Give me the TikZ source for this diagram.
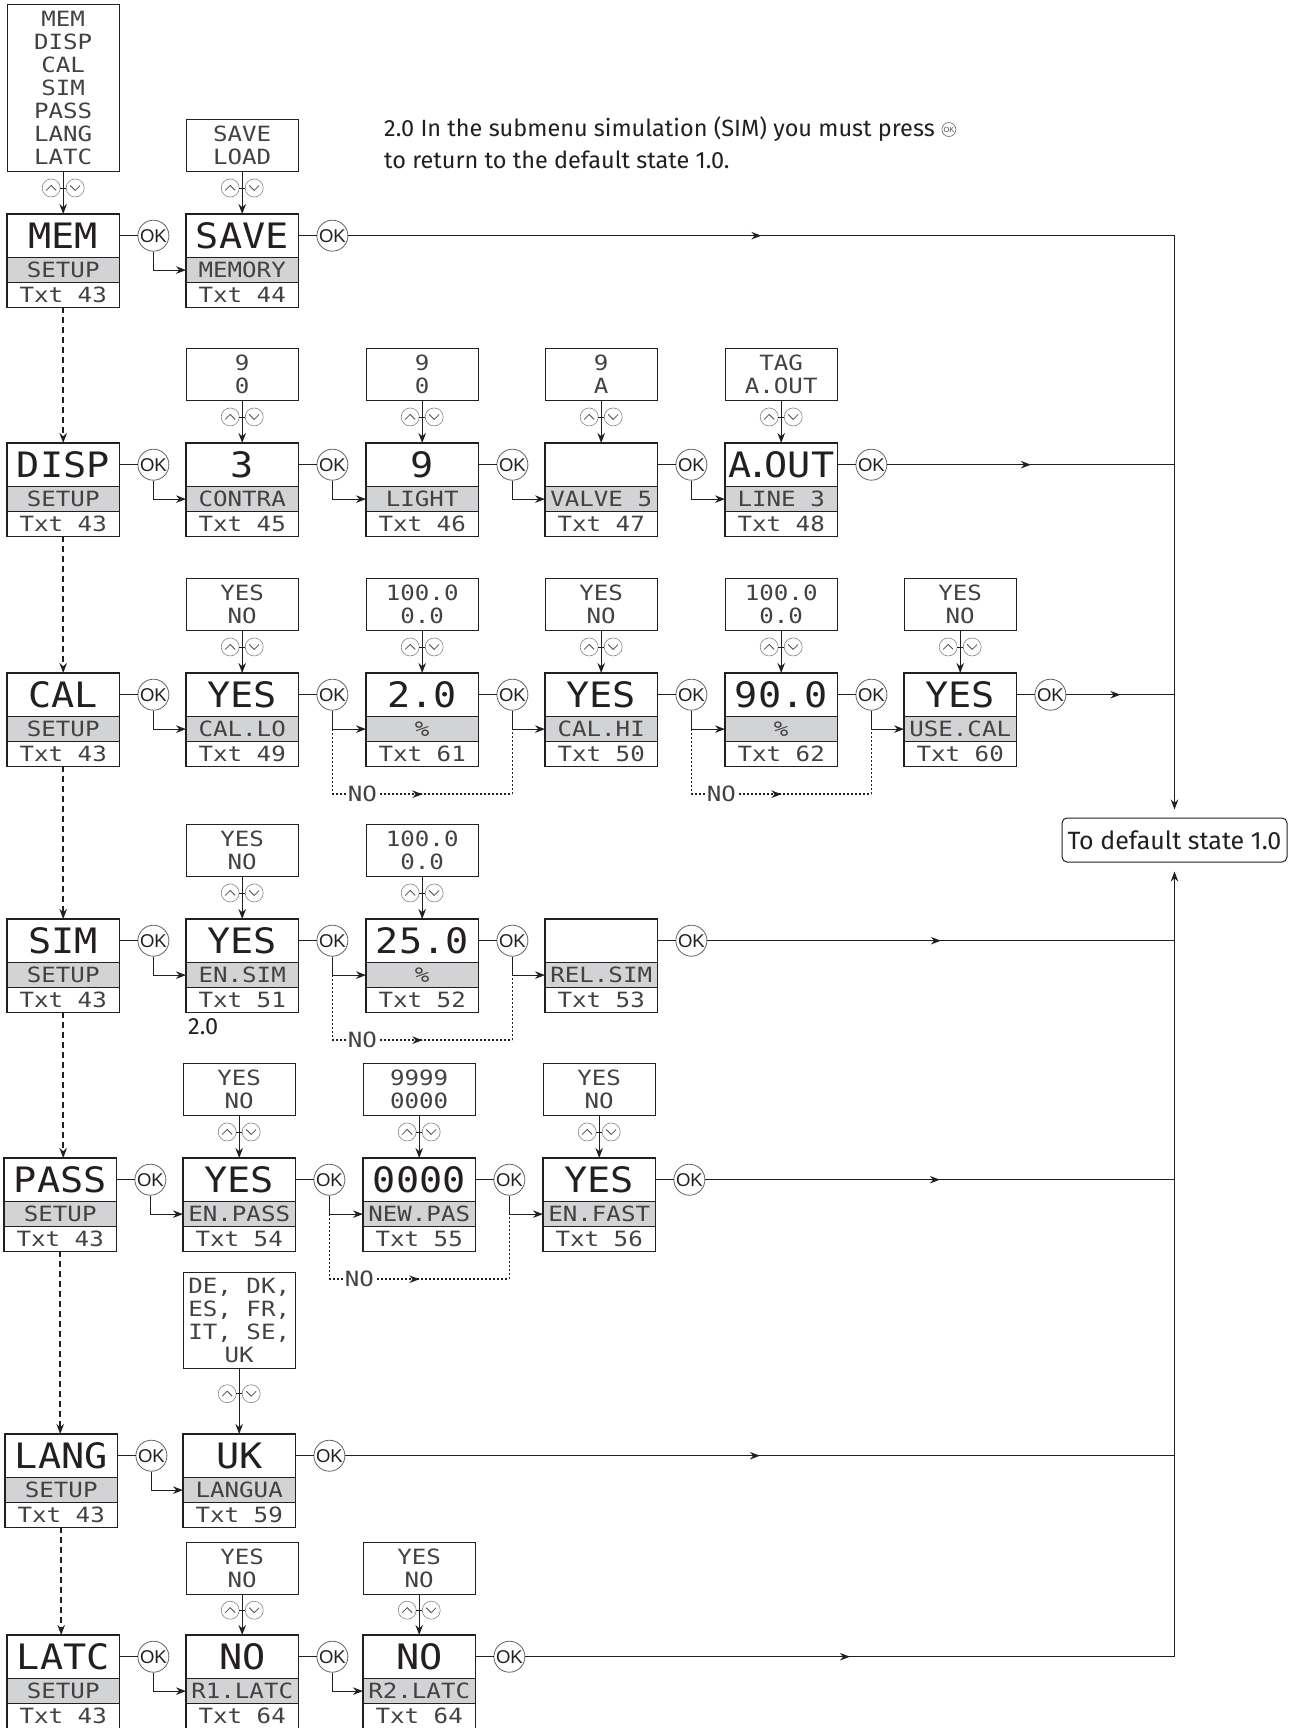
\documentclass[tikz,border=0pt]{standalone}
\usepackage{fontspec}
\setmainfont{Fira Sans}
\newfontfamily\lcdbig[FakeStretch=1.1]{DejaVu Sans Mono}
\newfontfamily\lcdsm[FakeStretch=1.15]{DejaVu Sans Mono}
\newfontfamily\okfont{Liberation Sans}
\usetikzlibrary{arrows.meta,decorations.markings,calc}
\definecolor{ink}{HTML}{231F20}
\definecolor{bandgray}{HTML}{D2D3D5}

\newcommand\lcd[6]{%
  \node[lcdt, anchor=north west] (#1) at (#2,#3) {#4};
  \node[lcdb, anchor=north] (#1-b) at (#1.south) {#5};
  \node[lcdx, anchor=north] (#1-x) at (#1-b.south) {#6};
  \draw[lcdframe] (#1.north west) rectangle (#1-x.south east);
  \draw[lcdframe] (#1-b.north west) -- (#1-b.north east) (#1-b.south west) -- (#1-b.south east);
}
\newcommand\sel[5]{%
  \node[listbox, minimum height=#4pt, anchor=south] (#1) at ($(#2.north)+(0,-#3)$) {#5};
  \draw[conn,->] (#1.south) -- coordinate[pos=0.38] (#1-k) (#2.north);
  \node[udc] (#1-ku) at ($(#1-k)+(-12,0)$) {};
  \node[udc] (#1-kd) at ($(#1-k)+(12,0)$) {};
  \draw[chev] ($(#1-k)+(-17,2.5)$) -- ++(5,-5) -- ++(5,5);
  \draw[chev] ($(#1-k)+(7,-2.5)$) -- ++(5,5) -- ++(5,-5);
  \draw[conn, line width=0.8pt] ($(#1-k)+(-3,0)$) -- ($(#1-k)+(3,0)$);
}
\newcommand\okto[3]{%
  \node[okc] (#1) at ($(#2.east)+(34,0)$) {OK};
  \draw[conn] (#2.east) -- (#1);
  \draw[conn,->] (#1.south) |- (#3-b.west);
}
\newcommand\okend[2]{%
  \node[okc] (#1) at ($(#2.east)+(34,0)$) {OK};
  \draw[conn] (#2.east) -- (#1);
  \draw[conn,midarr] (#1) -- (#1 -| def.north);
}
\newcommand\noloop[5]{%
  \coordinate (#1-a) at (#2 |- #3-b.west);
  \coordinate (#1-d) at ($(#2 |- #3-x.south)+(0,28)$);
  \coordinate (#1-e) at (#1-d -| #4);
  \coordinate (#1-c) at (#4 |- #5-b.west);
  \draw[dotl] (#1-a) -- (#1-d);
  \draw[dotl, midarr] (#1-d) -- (#1-e);
  \draw[dotl] (#1-e) -- (#1-c);
  \node[nolbl] (#1-t) at ($(#1-d)+(30,0)$) {NO};
}

\begin{document}
\begin{tikzpicture}[x=1pt,y=-1pt,
  >={Stealth[length=10pt,width=7.5pt]},
  conn/.style={draw=ink, line width=1.2pt},
  midarr/.style={postaction={decorate}, decoration={markings, mark=at position 0.5 with {\arrow{>}}}},
  lcdt/.style={minimum width=112pt, minimum height=43pt, inner sep=0pt, text height=25.5pt, text depth=0pt, font=\lcdbig\fontsize{35}{35}\selectfont, text=ink},
  lcdb/.style={fill=bandgray, minimum width=112pt, minimum height=25pt, inner sep=0pt, text height=15pt, text depth=0pt, font=\lcdsm\fontsize{21}{21}\selectfont, text=ink!85},
  lcdx/.style={minimum width=112pt, minimum height=24pt, inner sep=0pt, text height=15pt, text depth=0pt, font=\lcdsm\fontsize{21}{21}\selectfont, text=ink!85},
  lcdframe/.style={draw=ink, line width=1.3pt},
  listbox/.style={draw=ink, line width=1pt, minimum width=112pt, inner sep=0pt, align=center, font=\lcdsm\fontsize{21}{23}\selectfont, text=ink!85},
  okc/.style={circle, draw=ink!70, line width=0.8pt, fill=white, minimum size=31pt, inner sep=0pt, font=\okfont\fontsize{18.5}{18.5}\selectfont, text=ink},
  udc/.style={circle, draw=ink!55, line width=0.6pt, minimum size=18pt, inner sep=0pt},
  chev/.style={draw=ink!80, line width=0.8pt},
  dashl/.style={draw=ink, line width=2.2pt, dash pattern=on 6pt off 4pt},
  dotl/.style={draw=ink, line width=1.8pt, dash pattern=on 1.8pt off 2.2pt},
  nolbl/.style={fill=white, inner sep=1pt, font=\lcdsm\fontsize{21}{21}\selectfont, text=ink!85, text height=15pt, text depth=0pt},
  note/.style={font=\fontsize{23.5}{23.5}\selectfont, text=ink, inner sep=0pt},
]
\useasboundingbox (0,0) rectangle (1289,1728);

% default state box
\node[draw=ink, line width=1pt, rounded corners=5pt, minimum width=225pt, minimum height=44pt, font=\fontsize{25}{25}\selectfont, text=ink] (def) at (1174.5,840) {To default state 1.0};

% note
\node[note, anchor=base west] (note1) at (384,137) {2.0 In the submenu simulation (SIM) you must press};
\node[circle, draw=ink!70, line width=0.6pt, minimum size=14pt, inner sep=0pt, font=\okfont\fontsize{7.5}{7.5}\selectfont, text=ink!80] (okicon) at ($(note1.base east)+(14,-7.5)$) {OK};
\node[note, anchor=base west] (note2) at (384,169) {to return to the default state 1.0.};

% ---------- MEM row
\lcd{M0}{7}{214}{MEM}{SETUP}{Txt 43}
\lcd{M1}{186}{214}{SAVE}{MEMORY}{Txt 44}
\sel{M0l}{M0}{42}{167}{MEM\\DISP\\CAL\\SIM\\PASS\\LANG\\LATC}
\sel{M1l}{M1}{42}{52}{SAVE\\LOAD}
\okto{okM01}{M0}{M1}
\okend{okM12}{M1}

% ---------- DISP row
\lcd{D0}{7}{443}{DISP}{SETUP}{Txt 43}
\lcd{D1}{186}{443}{3}{CONTRA}{Txt 45}
\lcd{D2}{366}{443}{9}{LIGHT}{Txt 46}
\lcd{D3}{545}{443}{}{VALVE 5}{Txt 47}
\lcd{D4}{725}{443}{A\kern-5pt.\kern-5pt OUT}{LINE 3}{Txt 48}
\sel{D1l}{D1}{42}{52}{9\\0}
\sel{D2l}{D2}{42}{52}{9\\0}
\sel{D3l}{D3}{42}{52}{9\\A}
\sel{D4l}{D4}{42}{52}{TAG\\A.OUT}
\okto{okD01}{D0}{D1}
\okto{okD12}{D1}{D2}
\okto{okD23}{D2}{D3}
\okto{okD34}{D3}{D4}
\okend{okD45}{D4}

% ---------- CAL row
\lcd{C0}{7}{673}{CAL}{SETUP}{Txt 43}
\lcd{C1}{186}{673}{YES}{CAL.LO}{Txt 49}
\lcd{C2}{366}{673}{2.0}{\%}{Txt 61}
\lcd{C3}{545}{673}{YES}{CAL.HI}{Txt 50}
\lcd{C4}{725}{673}{90.0}{\%}{Txt 62}
\lcd{C5}{904}{673}{YES}{USE.CAL}{Txt 60}
\sel{C1l}{C1}{42}{52}{YES\\NO}
\sel{C2l}{C2}{42}{52}{100.0\\0.0}
\sel{C3l}{C3}{42}{52}{YES\\NO}
\sel{C4l}{C4}{42}{52}{100.0\\0.0}
\sel{C5l}{C5}{42}{52}{YES\\NO}
\okto{okC01}{C0}{C1}
\okto{okC12}{C1}{C2}
\okto{okC23}{C2}{C3}
\okto{okC34}{C3}{C4}
\okto{okC45}{C4}{C5}
\okend{okC56}{C5}
\noloop{nc1}{okC12}{C2}{okC23}{C3}
\noloop{nc2}{okC34}{C4}{okC45}{C5}

% ---------- SIM row
\lcd{S0}{7}{919}{SIM}{SETUP}{Txt 43}
\lcd{S1}{186}{919}{YES}{EN.SIM}{Txt 51}
\lcd{S2}{366}{919}{25.0}{\%}{Txt 52}
\lcd{S3}{545}{919}{}{REL.SIM}{Txt 53}
\sel{S1l}{S1}{42}{52}{YES\\NO}
\sel{S2l}{S2}{42}{52}{100.0\\0.0}
\okto{okS01}{S0}{S1}
\okto{okS12}{S1}{S2}
\okto{okS23}{S2}{S3}
\okend{okS34}{S3}
\noloop{ns1}{okS12}{S2}{okS23}{S3}
\node[note, anchor=west] (lbl20) at (188,1027) {2.0};

% ---------- PASS row
\lcd{P0}{4}{1158}{PASS}{SETUP}{Txt 43}
\lcd{P1}{183}{1158}{YES}{EN.PASS}{Txt 54}
\lcd{P2}{363}{1158}{0000}{NEW.PAS}{Txt 55}
\lcd{P3}{543}{1158}{YES}{EN.FAST}{Txt 56}
\sel{P1l}{P1}{42}{52}{YES\\NO}
\sel{P2l}{P2}{42}{52}{9999\\0000}
\sel{P3l}{P3}{42}{52}{YES\\NO}
\okto{okP01}{P0}{P1}
\okto{okP12}{P1}{P2}
\okto{okP23}{P2}{P3}
\okend{okP34}{P3}
\noloop{np1}{okP12}{P2}{okP23}{P3}

% ---------- LANG row
\lcd{L0}{5}{1434}{LANG}{SETUP}{Txt 43}
\lcd{L1}{183}{1434}{UK}{LANGUA}{Txt 59}
\sel{L1l}{L1}{65}{96}{DE, DK,\\ES, FR,\\IT, SE,\\UK}
\okto{okL01}{L0}{L1}
\okend{okL12}{L1}

% ---------- LATC row
\lcd{T0}{7}{1635}{LATC}{SETUP}{Txt 43}
\lcd{T1}{186}{1635}{NO}{R1.LATC}{Txt 64}
\lcd{T2}{363}{1635}{NO}{R2.LATC}{Txt 64}
\sel{T1l}{T1}{40}{52}{YES\\NO}
\sel{T2l}{T2}{40}{52}{YES\\NO}
\okto{okT01}{T0}{T1}
\okto{okT12}{T1}{T2}
\okend{okT23}{T2}

% ---------- rail to default state
\draw[conn,->,shorten >=8pt] (okM12 -| def.north) -- (def.north);
\draw[conn,->,shorten >=9pt] (okT23 -| def.south) -- (def.south);

% ---------- dashed main menu links
\draw[dashl,->] (M0-x.south) -- (M0-x.south |- D0.north);
\draw[dashl,->] (D0-x.south) -- (D0-x.south |- C0.north);
\draw[dashl,->] (C0-x.south) -- (C0-x.south |- S0.north);
\draw[dashl,->] (S0-x.south) -- (S0-x.south |- P0.north);
\draw[dashl,->] (P0-x.south) -- (P0-x.south |- L0.north);
\draw[dashl,->] (L0-x.south) -- (L0-x.south |- T0.north);
\end{tikzpicture}
\end{document}
